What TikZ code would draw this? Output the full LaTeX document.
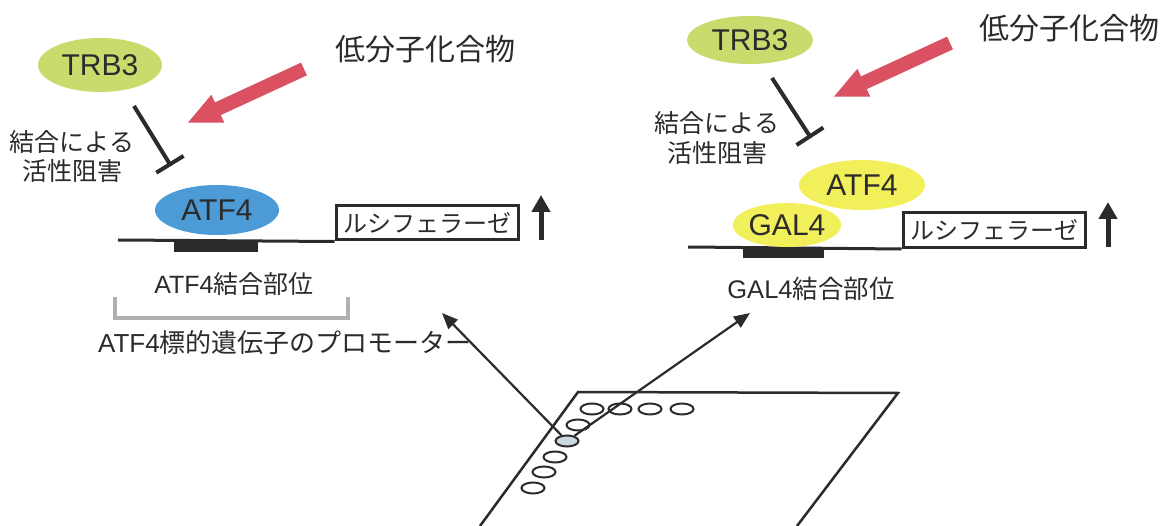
\documentclass[tikz,border=0pt]{standalone}
\usepackage{fontspec}
\setmainfont{Liberation Sans}
\newfontfamily\jp{Noto Sans CJK JP}
\usetikzlibrary{arrows.meta,shapes.geometric}
\definecolor{trbgreen}{HTML}{C8DC6E}
\definecolor{atfblue}{HTML}{4C9BD6}
\definecolor{galyellow}{HTML}{F2F05A}
\definecolor{arrowred}{HTML}{DA5262}
\definecolor{ink}{HTML}{2B2B2B}
\definecolor{brgray}{HTML}{B0B0B0}
\definecolor{wellfill}{HTML}{C9D9E0}
\tikzset{
  prot/.style={ellipse, inner sep=0pt, text=ink, font=\fontsize{30}{36}\selectfont},
  lbl/.style={text=ink, inner sep=0pt, align=center},
  inhib/.style={ink, line width=4pt, -{Bar[width=32pt]}},
  redarrow/.style={arrowred, line width=14pt, -{Triangle[width=28pt,length=34pt]}},
  dna/.style={ink, line width=3pt},
  site/.style={rectangle, fill=ink, inner sep=0pt},
  lucbox/.style={rectangle, draw=ink, line width=3pt, fill=white, inner sep=0pt, font=\jp\fontsize{24}{28}\selectfont, text=ink},
  uparrow/.style={ink, line width=5pt, -{Triangle[width=18pt,length=17pt]}},
  plate/.style={ink, line width=2.5pt, line join=miter},
  well/.style={ellipse, draw=ink, line width=2pt, minimum width=23pt, minimum height=11pt, inner sep=0pt},
  pointer/.style={ink, line width=2.2pt, -{Triangle[width=13pt,length=16pt]}},
}
\begin{document}
\begin{tikzpicture}[x=1pt,y=-1pt]
\useasboundingbox[fill=white] (0,0) rectangle (1167,526);

% ---------------- left panel ----------------
\node[prot, fill=trbgreen, minimum width=124pt, minimum height=54pt] (trbL) at (100,65) {TRB3};
\node[lbl, font=\jp\fontsize{30}{36}\selectfont] (cmpL) at (425,49) {低分子化合物};
\coordinate (redLs) at (304,69);
\coordinate (redLe) at (187,123);
\draw[redarrow] (redLs) -- (redLe);
\coordinate (inhLs) at (134,106);
\coordinate (inhLe) at (171,166);
\draw[inhib] (inhLs) -- (inhLe);
\node[lbl, font=\jp\fontsize{25}{29}\selectfont] (txtL) at (72,157) {結合による\\活性阻害};

\coordinate (dnaLs) at (118,240);
\node[lucbox, minimum width=182pt, minimum height=34pt] (lucL) at (427,223) {ルシフェラーゼ};
\draw[dna] (dnaLs) -- (lucL.south west);
\node[site, minimum width=84pt, minimum height=12pt] (siteL) at (216,246) {};
\node[prot, fill=atfblue, minimum width=124pt, minimum height=50pt] (atfL) at (217,210) {ATF4};
\coordinate (upLs) at (541,240);
\coordinate (upLe) at (541,195);
\draw[uparrow] (upLs) -- (upLe);

\node[lbl, font=\fontsize{25}{30}\selectfont] (siteLtxt) at (234,284) {ATF4{\jp 結合部位}};
\draw[brgray, line width=4pt] (115,297) -- (115,318) -- (348,318) -- (348,297);
\node[lbl, font=\fontsize{26}{31}\selectfont] (prom) at (285,343) {ATF4{\jp 標的遺伝子のプロモーター}};

% ---------------- right panel ----------------
\node[prot, fill=trbgreen, minimum width=126pt, minimum height=48pt] (trbR) at (750,40) {TRB3};
\node[lbl, font=\jp\fontsize{30}{36}\selectfont] (cmpR) at (1069,28) {低分子化合物};
\coordinate (redRs) at (950,43);
\coordinate (redRe) at (833,97);
\draw[redarrow] (redRs) -- (redRe);
\coordinate (inhRs) at (772,78);
\coordinate (inhRe) at (811,138);
\draw[inhib] (inhRs) -- (inhRe);
\node[lbl, font=\jp\fontsize{25}{30}\selectfont] (txtR) at (717,138) {結合による\\活性阻害};

\coordinate (dnaRs) at (688,247);
\node[lucbox, minimum width=182pt, minimum height=35pt] (lucR) at (994,230) {ルシフェラーゼ};
\draw[dna] (dnaRs) -- (lucR.south west);
\node[site, minimum width=81pt, minimum height=11pt] (siteR) at (783.5,252.5) {};
\node[prot, fill=galyellow, minimum width=126pt, minimum height=50pt] (atfR) at (862,185) {ATF4};
\node[prot, fill=galyellow, minimum width=106pt, minimum height=44pt] (galR) at (787,225) {GAL4};
\coordinate (upRs) at (1108,247);
\coordinate (upRe) at (1108,202);
\draw[uparrow] (upRs) -- (upRe);
\node[lbl, font=\fontsize{25.5}{30}\selectfont] (siteRtxt) at (811,289) {GAL4{\jp 結合部位}};

% ---------------- plate ----------------
\coordinate (pBL) at (480,526);
\coordinate (pTL) at (578,392);
\coordinate (pTR) at (898,393);
\coordinate (pBR) at (797,526);
\draw[plate] (pBL) -- (pTL) -- (pTR) -- (pBR);
\node[well] (w1) at (592,409) {};
\node[well] (w2) at (620,409) {};
\node[well] (w3) at (650,409) {};
\node[well] (w4) at (682,409) {};
\node[well] (w5) at (578,425) {};
\node[well, fill=wellfill] (w6) at (567,441) {};
\node[well] (w7) at (555,457) {};
\node[well] (w8) at (544,472) {};
\node[well] (w9) at (533,488) {};
\coordinate (tipL) at (442,313);
\coordinate (tipR) at (750,313);
\draw[pointer] (w6) -- (tipL);
\draw[pointer] (w6) -- (tipR);
\end{tikzpicture}
\end{document}
